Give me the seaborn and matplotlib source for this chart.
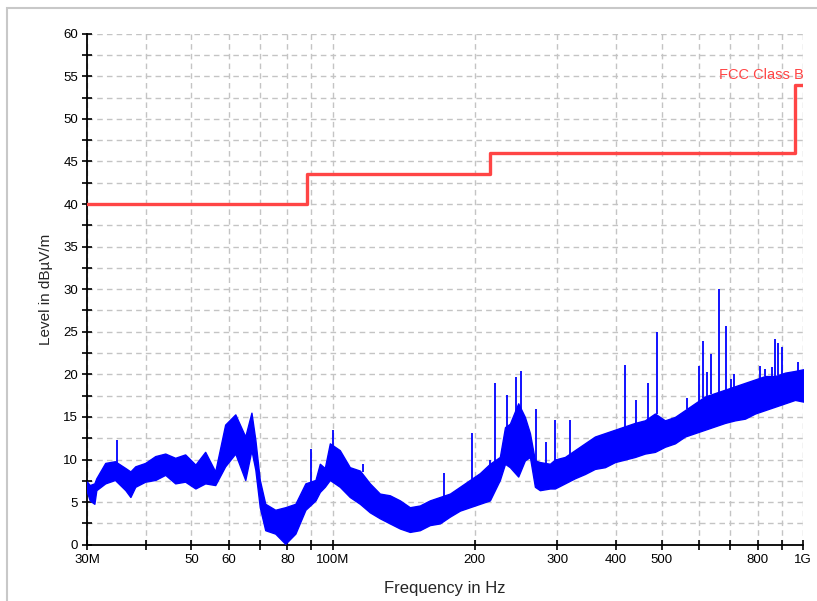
import numpy as np
import pandas as pd
import matplotlib
matplotlib.use("Agg")
import matplotlib.pyplot as plt
import matplotlib.ticker as mticker
from matplotlib.patches import Rectangle
import seaborn as sns

# limit line (MHz, dBuV/m)
limit_freq = [30, 88, 216, 960, 1000]
limit_level = [40, 43.5, 46, 54, 54]

trace_freq = [30.0, 30.4, 31.1, 31.4, 32.8, 34.4, 36.2, 37.1, 38.0, 39.9, 41.9, 44.0,
              46.2, 48.5, 51.0, 53.5, 56.2, 59.0, 62.0, 65.1, 67.1, 68.4, 69.9, 71.8,
              75.4, 79.2, 83.2, 87.4, 91.8, 93.8, 96.1, 98.5, 103.4, 108.6, 114.1,
              119.8, 125.8, 132.1, 138.8, 145.7, 153.0, 160.7, 168.8, 177.3, 186.2,
              195.5, 205.3, 215.6, 226.4, 232.2, 237.8, 247.7, 255.9, 262.3, 268.8,
              275.4, 289.3, 296.4, 311.3, 326.9, 343.3, 360.6, 378.7, 397.7, 438.6,
              460.6, 483.7, 508.0, 533.5, 560.3, 588.4, 618.0, 649.0, 681.6, 715.8,
              751.7, 789.5, 829.1, 870.7, 914.4, 960.3, 1000.0]
trace_low = [6.2, 5.2, 4.8, 6.4, 7.2, 7.6, 6.4, 5.6, 6.8, 7.4, 7.6, 8.2,
             7.2, 7.4, 6.6, 7.2, 7.0, 9.2, 10.7, 7.6, 11.1, 8.8, 4.4, 1.7,
             1.3, 0.1, 1.3, 4.1, 5.2, 6.2, 6.8, 7.6, 6.8, 5.6, 4.8,
             3.8, 3.1, 2.5, 1.9, 1.5, 1.7, 2.3, 2.5, 3.3, 4.0,
             4.4, 4.8, 5.2, 7.6, 9.5, 9.1, 8.0, 9.9, 10.3, 6.8,
             6.4, 6.6, 6.6, 7.2, 7.8, 8.3, 8.9, 9.1, 9.7, 10.3,
             10.7, 10.9, 11.5, 11.9, 12.7, 13.1, 13.5, 13.9, 14.3, 14.6,
             14.8, 15.4, 15.8, 16.2, 16.6, 17.0, 16.8]
trace_high = [7.4, 7.0, 7.2, 7.8, 9.6, 9.8, 9.0, 8.6, 9.2, 9.6, 10.4, 10.7,
              10.2, 10.6, 9.4, 10.9, 8.6, 14.1, 15.3, 12.7, 15.5, 12.3, 7.6, 4.8,
              4.1, 4.4, 4.8, 7.2, 7.6, 9.5, 9.0, 11.9, 11.1, 9.1, 8.7,
              7.2, 6.0, 5.8, 5.2, 4.4, 4.6, 5.2, 5.6, 6.0, 6.8,
              7.6, 8.4, 9.5, 10.3, 13.8, 14.2, 16.6, 15.0, 13.1, 9.9,
              9.7, 9.5, 10.0, 10.3, 11.1, 11.9, 12.7, 13.1, 13.5, 14.3,
              14.6, 15.4, 14.6, 15.0, 15.8, 16.6, 17.4, 17.8, 18.2, 18.6,
              19.0, 19.4, 19.8, 19.8, 20.2, 20.4, 20.6]

# narrow peaks sticking out of the band
spike_freq = [34.8, 90.0, 100.1, 115.6, 172.4, 197.4, 216, 220.9, 233.9, 245, 250.9,
              270.7, 283.7, 296.5, 319, 417.6, 440.7, 466.5, 488.6, 566, 599, 612.7,
              625.7, 637, 660.4, 685.6, 701, 712, 808.6, 828.7, 859, 871.7, 884.8,
              899.6, 975.5]
spike_base = [9.6, 7.4, 11.5, 8.5, 5.7, 7.5, 9.4, 9.6, 13.8, 15.0, 15.5,
              9.7, 9.5, 9.9, 10.5, 13.8, 14.3, 14.7, 15.3, 15.9, 16.8, 17.2,
              17.5, 17.7, 17.9, 18.2, 18.4, 18.5, 19.4, 19.8, 19.8, 19.8, 19.9,
              20.0, 20.4]
spike_top = [12.3, 11.2, 13.5, 9.5, 8.4, 13.1, 10.0, 19.0, 17.6, 19.7, 20.4,
             15.9, 12.1, 14.6, 14.6, 21.1, 17.0, 19.0, 25.0, 17.2, 21.0, 23.9,
             20.3, 22.4, 30.0, 25.7, 19.4, 20.1, 21.0, 20.6, 20.9, 24.1, 23.7,
             23.2, 21.5]

limit_df = pd.DataFrame({"freq": limit_freq, "level": limit_level})

sns.set_style("white")
plt.rcParams["font.family"] = ["Liberation Sans", "DejaVu Sans"]

fig = plt.figure(figsize=(8.17, 6.01), dpi=100)
ax = fig.add_axes([0.1065, 0.0937, 0.8767, 0.8502])
ax.set_axisbelow(True)

ax.fill_between(trace_freq, trace_low, trace_high, color="#0000ff", lw=1.0, zorder=3)
ax.vlines(spike_freq, spike_base, spike_top, color="#0000ff", lw=1.3, zorder=3)

sns.lineplot(data=limit_df, x="freq", y="level", ax=ax, color="#ff4545",
             lw=2.4, drawstyle="steps-post", zorder=4)
ax.text(1000, 54.3, "FCC Class B", color="#ff4545", fontsize=10.5,
        ha="right", va="bottom", zorder=5)

ax.set_xscale("log")
ax.set_xlim(30, 1000)
ax.set_ylim(0, 60)

ax.xaxis.set_major_locator(mticker.FixedLocator([30, 50, 60, 80, 100, 200, 300, 400, 500, 800, 1000]))
ax.xaxis.set_major_formatter(mticker.FixedFormatter(
    ["30M", "50", "60", "80", "100M", "200", "300", "400", "500", "800", "1G"]))
ax.xaxis.set_minor_locator(mticker.FixedLocator([40, 70, 90, 600, 700, 900]))
ax.xaxis.set_minor_formatter(mticker.NullFormatter())
ax.yaxis.set_major_locator(mticker.MultipleLocator(5))
ax.yaxis.set_minor_locator(mticker.MultipleLocator(2.5))

ax.grid(True, which="both", color="#c4c4c4", ls=(0, (4, 3)), lw=1.0, zorder=0)
ax.tick_params(which="both", direction="inout", length=7, width=1.2, colors="black",
               labelsize=9.5, left=True, bottom=True, pad=3)

sns.despine(ax=ax)
for side in ["left", "bottom"]:
    ax.spines[side].set_color("black")
    ax.spines[side].set_linewidth(1.3)

ax.set_xlabel("Frequency in Hz", fontsize=12, labelpad=11)
ax.set_ylabel("Level in dBµV/m", fontsize=11, labelpad=7)

# light frame around the whole picture
fig.patches.append(Rectangle((7 / 817, -0.05), 1.2, 1 - 8 / 601 + 0.05,
                             transform=fig.transFigure, fill=False,
                             edgecolor="#c8c8c8", lw=1.5))

fig.savefig("out.png", dpi=100)
